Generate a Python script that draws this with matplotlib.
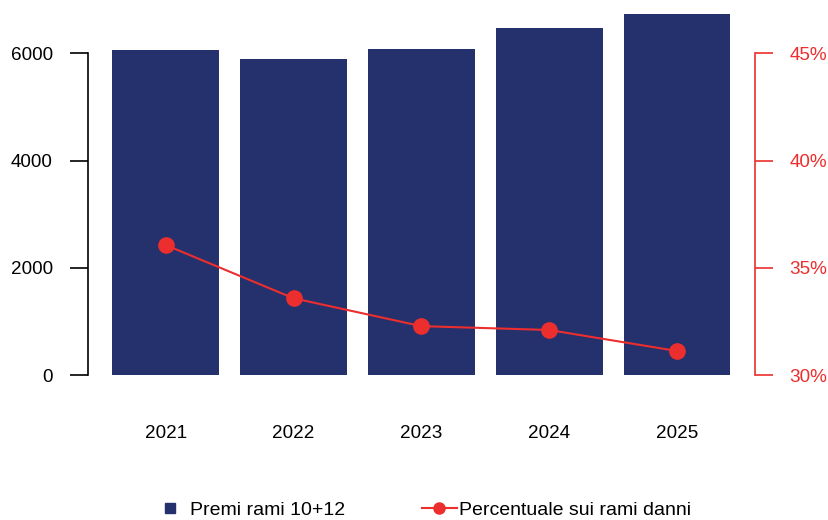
import matplotlib
matplotlib.use("Agg")
import matplotlib.pyplot as plt
from matplotlib.lines import Line2D
from matplotlib.ticker import FuncFormatter

plt.rcParams['font.family'] = ['Liberation Sans', 'DejaVu Sans']

# dati
anni = ['2021', '2022', '2023', '2024', '2025']
premi = [6062, 5894, 6080, 6472, 6733]
percentuale = [36.06, 33.58, 32.28, 32.10, 31.12]

navy = '#24316c'
rosso = '#ec2e2e'
fs = 13.6

fig = plt.figure(figsize=(8.29, 5.2), dpi=100)
ax = fig.add_axes([0.1058, 0.2788, 0.8049, 0.7019])
ax2 = ax.twinx()

x = list(range(len(anni)))
ax.bar(x, premi, width=0.836, color=navy, zorder=2)
ax2.plot(x, percentuale, '-o', color=rosso, linewidth=1.5, markersize=11, zorder=3)

ax.set_xlim(-0.61, 4.61)
ax.set_ylim(0, 6808)
ax2.set_ylim(30, 47.02)

ax.set_yticks([0, 2000, 4000, 6000])
ax2.set_yticks([30, 35, 40, 45])
ax2.yaxis.set_major_formatter(FuncFormatter(lambda v, p: f'{v:.0f}%'))

ax.set_xticks(x)
ax.set_xticklabels(anni)

for a in (ax, ax2):
    a.spines['top'].set_visible(False)
    a.spines['bottom'].set_visible(False)
ax2.spines['left'].set_visible(False)
ax.spines['right'].set_visible(False)

ax.spines['left'].set_bounds(0, 6000)
ax.spines['left'].set_linewidth(1.2)
ax2.spines['right'].set_bounds(30, 45)
ax2.spines['right'].set_color(rosso)
ax2.spines['right'].set_linewidth(1.2)

ax.tick_params(axis='y', length=13, width=1.2, pad=12, labelsize=fs, colors='black')
ax2.tick_params(axis='y', length=13, width=1.2, pad=12, labelsize=fs, colors=rosso)
ax.tick_params(axis='x', length=0, pad=36, labelsize=fs)

handles = [
    Line2D([], [], linestyle='none', marker='s', markersize=7.5, color=navy),
    Line2D([], [], linestyle='-', marker='o', markersize=8, linewidth=1.5, color=rosso),
]
labels = ['Premi rami 10+12', 'Percentuale sui rami danni']
fig.legend(handles, labels, loc='center', bbox_to_anchor=(0.5090, 1 - 510 / 520), ncol=2,
           frameon=False, fontsize=14, handlelength=1.8, handletextpad=0.1,
           columnspacing=3.95, borderpad=0, borderaxespad=0)

plt.savefig('out.png', dpi=100)
